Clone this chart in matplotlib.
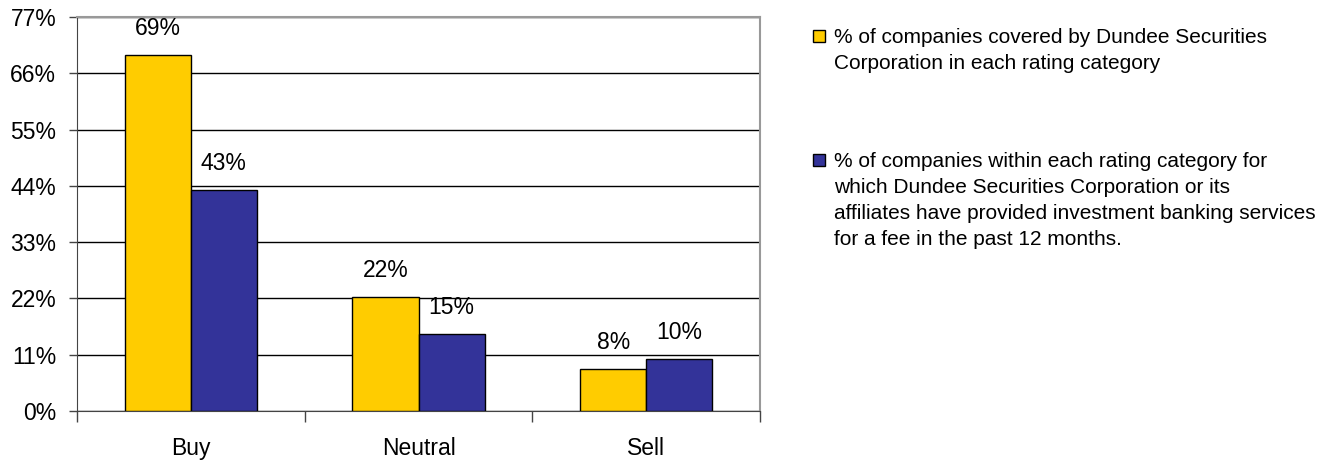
import matplotlib
matplotlib.use("Agg")
import matplotlib.pyplot as plt
import numpy as np
from matplotlib.patches import Rectangle

plt.rcParams['font.family'] = ['Liberation Sans', 'DejaVu Sans']

categories = ["Buy", "Neutral", "Sell"]
covered = [69.5, 22.3, 8.2]
ib_services = [43.2, 15.0, 10.1]
covered_labels = ["69%", "22%", "8%"]
ib_labels = ["43%", "15%", "10%"]
yticks = [0, 11, 22, 33, 44, 55, 66, 77]
legend_labels = [
    ["% of companies covered by Dundee Securities",
     "Corporation in each rating category"],
    ["% of companies within each rating category for",
     "which Dundee Securities Corporation or its",
     "affiliates have provided investment banking services",
     "for a fee in the past 12 months."],
]

YELLOW = "#FFCC00"
BLUE = "#333399"
FS = 16.5
LFS = 15

fig = plt.figure(figsize=(13.42, 4.61), dpi=100)
ax = fig.add_axes([77/1342, 1-411/461, (760-77)/1342, (411-17)/461])

x = np.arange(len(categories))
w = 0.29
b1 = ax.bar(x - w/2, covered, w, color=YELLOW, edgecolor="black", linewidth=1, zorder=3)
b2 = ax.bar(x + w/2, ib_services, w, color=BLUE, edgecolor="black", linewidth=1, zorder=3)
ax.bar_label(b1, labels=covered_labels, padding=11, fontsize=FS)
ax.bar_label(b2, labels=ib_labels, padding=11, fontsize=FS)

ax.set_xlim(-0.5, 2.5)
ax.set_ylim(0, 77)
ax.set_yticks(yticks)
ax.set_yticklabels([f"{t}%" for t in yticks], fontsize=FS)
ax.yaxis.grid(True, color="black", linewidth=1, zorder=0)
ax.set_axisbelow(True)

ax.set_xticks(x)
ax.set_xticklabels(categories, fontsize=FS)
ax.tick_params(axis="x", length=0, pad=19)
ax.set_xticks([-0.5, 0.5, 1.5, 2.5], minor=True)
ax.tick_params(axis="x", which="minor", length=8, width=1, color="#444444", direction="out")
ax.tick_params(axis="y", length=6, width=1, color="#444444", pad=9)

for s in ["top", "right"]:
    ax.spines[s].set_color("#999999")
    ax.spines[s].set_linewidth(1.5)
ax.spines["left"].set_color("#444444")
ax.spines["bottom"].set_color("#444444")

# Legend drawn in figure space
colors = [YELLOW, BLUE]
baselines = [43, 167]
line_gap = 26
for c, lines, bl in zip(colors, legend_labels, baselines):
    fig.patches.append(Rectangle((813/1342, 1-(bl-1)/461), 12/1342, 12/461,
                                 transform=fig.transFigure, facecolor=c,
                                 edgecolor="black", linewidth=1))
    for i, line in enumerate(lines):
        fig.text(834/1342, 1-(bl + i*line_gap)/461, line, fontsize=LFS,
                 va="baseline", ha="left")

fig.savefig("out.png", dpi=100)
